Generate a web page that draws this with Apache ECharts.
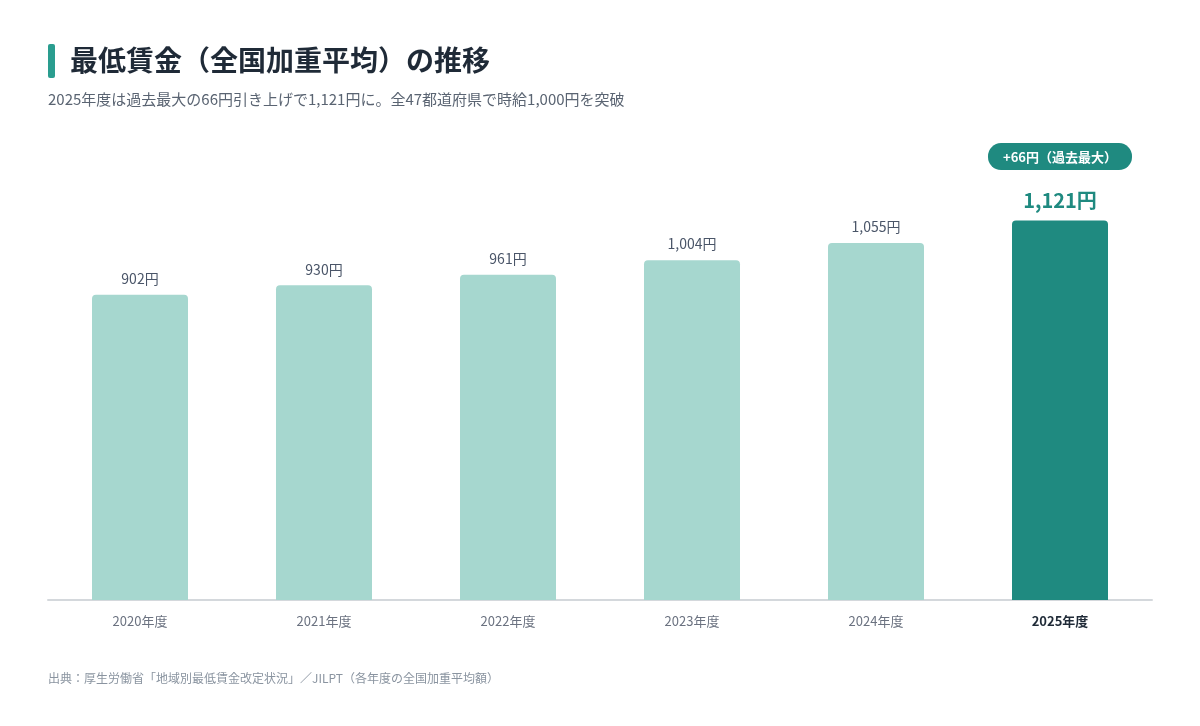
<!DOCTYPE html>
<html>
<head>
<meta charset="utf-8">
<script src="https://cdn.jsdelivr.net/npm/echarts@6/dist/echarts.min.js"></script>
<style>
  html, body { margin: 0; padding: 0; background: #fff; }
  #chart { width: 1200px; height: 726px; }
</style>
</head>
<body>
<div id="chart"></div>
<script>
const FONT = '"Noto Sans CJK JP", "Noto Sans", sans-serif';

// data
const years = ['2020年度', '2021年度', '2022年度', '2023年度', '2024年度', '2025年度'];
const wages = [902, 930, 961, 1004, 1055, 1121];
const badgeText = '+66円（過去最大）';

const lightColor = '#a6d7cf';
const darkColor = '#1f8a80';
const lastIdx = wages.length - 1;

const fmt = (v) => v.toLocaleString('en-US') + '円';

const chart = echarts.init(document.getElementById('chart'));

const barData = wages.map((v, i) => {
  if (i !== lastIdx) return v;
  return {
    value: v,
    itemStyle: { color: darkColor },
    label: {
      distance: 8,
      formatter: () => '{badge|' + badgeText + '}\n{sp| }\n{val|' + fmt(v) + '}',
      rich: {
        badge: {
          color: '#fff', fontSize: 13, fontWeight: 'bold', fontFamily: FONT,
          backgroundColor: darkColor, borderRadius: 13,
          padding: [7, 15], lineHeight: 16, align: 'center'
        },
        sp: { lineHeight: 24, fontSize: 4 },
        val: {
          color: darkColor, fontSize: 20, fontWeight: 'bold', fontFamily: FONT,
          lineHeight: 24, align: 'center'
        }
      }
    }
  };
});

const option = {
  animation: false,
  textStyle: { fontFamily: FONT },
  title: [
    {
      text: '最低賃金（全国加重平均）の推移',
      left: 70, top: 46, padding: 0,
      textStyle: { fontSize: 28, fontWeight: 'bold', color: '#1f2a37', fontFamily: FONT }
    },
    {
      text: '2025年度は過去最大の66円引き上げで1,121円に。全47都道府県で時給1,000円を突破',
      left: 48, top: 92, padding: 0,
      textStyle: { fontSize: 15, fontWeight: 'normal', color: '#5a6472', fontFamily: FONT }
    },
    {
      text: '出典：厚生労働省「地域別最低賃金改定状況」／JILPT（各年度の全国加重平均額）',
      left: 48, top: 672, padding: 0,
      textStyle: { fontSize: 12, fontWeight: 'normal', color: '#8a94a0', fontFamily: FONT }
    }
  ],
  graphic: [
    {
      type: 'rect',
      shape: { x: 48, y: 44, width: 7, height: 34, r: 2 },
      style: { fill: '#2a9d8f' }
    }
  ],
  grid: { left: 48, right: 48, top: 160, bottom: 126 },
  xAxis: {
    type: 'category',
    data: years,
    axisLine: { lineStyle: { color: '#d4d8dc', width: 2 } },
    axisTick: { show: false },
    axisLabel: {
      margin: 15,
      fontSize: 13,
      color: '#6b7280',
      formatter: (v, i) => (i === lastIdx ? '{b|' + v + '}' : v),
      rich: {
        b: { fontSize: 13, fontWeight: 'bold', color: '#1f2a37', fontFamily: FONT }
      }
    }
  },
  yAxis: {
    type: 'value',
    min: 0,
    max: 1300,
    show: false,
    splitLine: { show: false }
  },
  series: [
    {
      type: 'bar',
      data: barData,
      barWidth: 96,
      itemStyle: { color: lightColor, borderRadius: [4, 4, 0, 0] },
      label: {
        show: true,
        position: 'top',
        distance: 9,
        fontSize: 14,
        color: '#4a5568',
        fontFamily: FONT,
        formatter: (p) => fmt(p.value)
      }
    }
  ]
};

chart.setOption(option);
window.addEventListener('resize', () => chart.resize());
</script>
</body>
</html>
